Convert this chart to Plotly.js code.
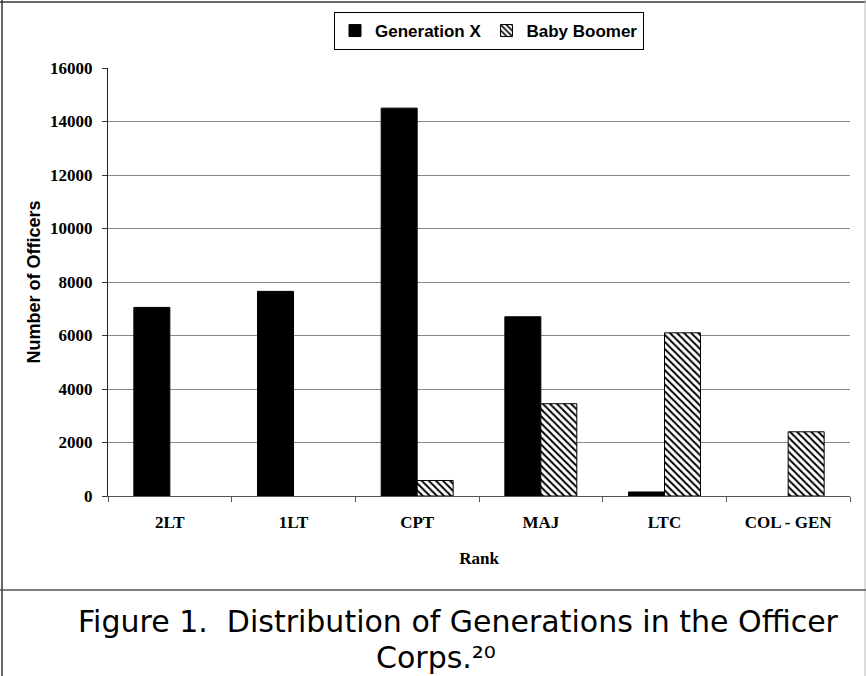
<!DOCTYPE html>
<html>
<head>
<meta charset="utf-8">
<script src="https://cdn.plot.ly/plotly-3.0.1.min.js"></script>
<style>
  html, body { margin: 0; padding: 0; background: #fff; }
  #chart { width: 866px; height: 676px; }
</style>
</head>
<body>
<div id="chart"></div>
<script>
const ranks = ["2LT", "1LT", "CPT", "MAJ", "LTC", "COL - GEN"];
const generationX = [7050, 7650, 14500, 6700, 150, null];
const babyBoomer = [null, null, 580, 3450, 6100, 2400];
const yTicks = [0, 2000, 4000, 6000, 8000, 10000, 12000, 14000, 16000];

const serifBold = {family: "Liberation Serif, Times New Roman, serif", size: 17, color: "#000", weight: "bold"};
const sansBold = {family: "Liberation Sans, Arial, sans-serif", size: 17, color: "#000", weight: "bold"};
const captionFont = {family: "DejaVu Sans, Verdana, sans-serif", size: 30, color: "#000"};

const traces = [
  {
    type: "bar", name: "Generation X", x: ranks, y: generationX,
    marker: {color: "#000", line: {color: "#000", width: 1}},
    hoverinfo: "x+y"
  },
  {
    type: "bar", name: "Baby Boomer", x: ranks, y: babyBoomer,
    marker: {
      color: "#fff",
      line: {color: "#000", width: 1},
      pattern: {shape: "\\", fgcolor: "#000", bgcolor: "#fff", size: 5, solidity: 0.4}
    },
    hoverinfo: "x+y"
  }
];

// pixel helpers for decoration placement (plot area: x 108..850, y 68..496)
const px = v => (v - 108) / 742;
const py = v => (496 - v) / 428;

const layout = {
  width: 866, height: 676,
  margin: {l: 108, r: 16, t: 68, b: 180},
  paper_bgcolor: "#fff", plot_bgcolor: "#fff",
  barmode: "group", bargap: 0.418, bargroupgap: 0,
  showlegend: true,
  legend: {
    orientation: "h", xref: "container", yref: "container",
    x: 489 / 866, xanchor: "center", y: 1 - 12 / 676, yanchor: "top",
    bordercolor: "#000", borderwidth: 1, bgcolor: "#fff",
    font: sansBold, itemwidth: 30, traceorder: "normal"
  },
  xaxis: {
    type: "category", tickson: "boundaries",
    ticks: "outside", ticklen: 5, tickcolor: "#555",
    showline: true, linecolor: "#555", linewidth: 1,
    showgrid: false, tickfont: serifBold, ticklabelstandoff: 11,
    title: {text: "Rank", font: serifBold, standoff: 20},
    fixedrange: true
  },
  yaxis: {
    range: [0, 16000], tickvals: yTicks, ticktext: yTicks.map(String),
    ticks: "outside", ticklen: 5, tickcolor: "#333",
    showline: true, linecolor: "#222", linewidth: 1,
    showgrid: true, gridcolor: "#888", gridwidth: 1, zeroline: false,
    tickfont: serifBold, ticklabelstandoff: 6,
    title: {text: "Number of Officers", font: Object.assign({}, sansBold, {size: 18}), standoff: 4},
    fixedrange: true
  },
  shapes: [
    {type: "line", xref: "paper", yref: "paper", x0: px(2), x1: px(2), y0: py(0), y1: py(676), line: {color: "#333", width: 1.5}},
    {type: "line", xref: "paper", yref: "paper", x0: px(0), x1: px(866), y0: py(2), y1: py(2), line: {color: "#333", width: 1.5}},
    {type: "line", xref: "paper", yref: "paper", x0: px(865), x1: px(865), y0: py(0), y1: py(676), line: {color: "#bbb", width: 1}},
    {type: "line", xref: "paper", yref: "paper", x0: px(0), x1: px(866), y0: py(590), y1: py(590), line: {color: "#555", width: 1.5}}
  ],
  annotations: [
    {xref: "paper", yref: "paper", x: px(458), y: py(621), xanchor: "center", yanchor: "middle",
     showarrow: false, text: "Figure 1.&nbsp; Distribution of Generations in the Officer",
     font: captionFont},
    {xref: "paper", yref: "paper", x: px(436), y: py(657), xanchor: "center", yanchor: "middle",
     showarrow: false, text: "Corps.²⁰",
     font: captionFont}
  ]
};

Plotly.newPlot("chart", traces, layout, {displayModeBar: false, staticPlot: true});
</script>
</body>
</html>
